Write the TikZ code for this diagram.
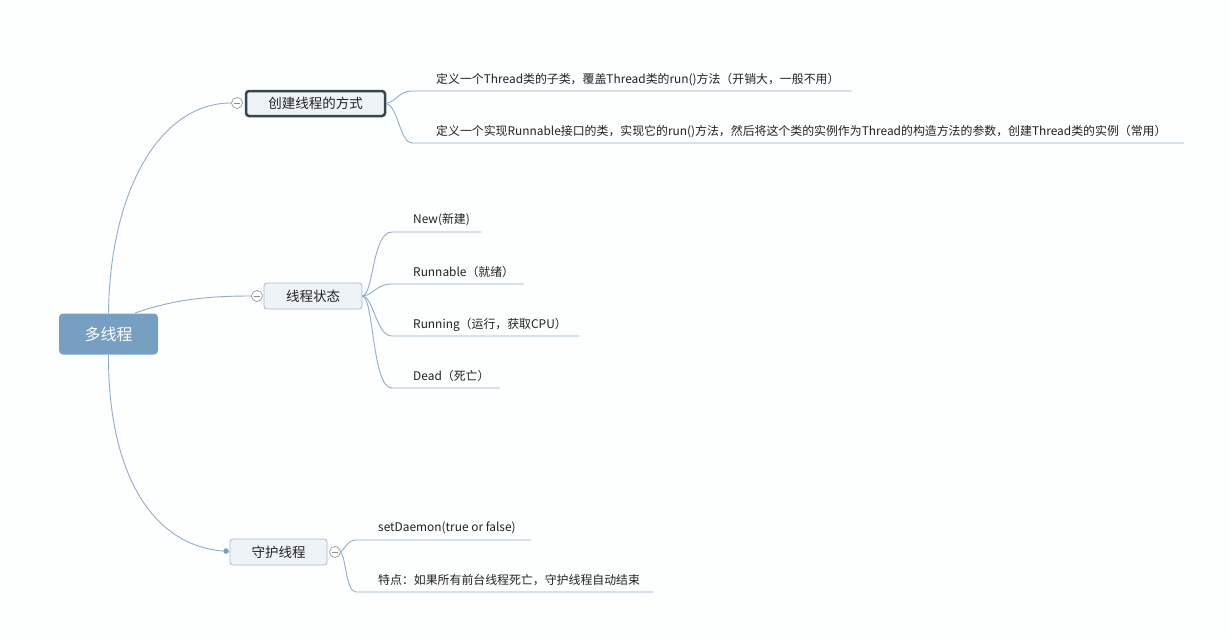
\documentclass[tikz,border=0pt]{standalone}
\usepackage{fontspec}
\setmainfont{Noto Sans CJK SC}
\definecolor{rootfill}{HTML}{779FC2}
\definecolor{topicfill}{HTML}{EEF3F8}
\definecolor{topicedge}{HTML}{A6BBCD}
\definecolor{darkedge}{HTML}{37454F}
\definecolor{linec}{HTML}{90AEC8}
\definecolor{txt}{HTML}{222222}
\definecolor{bg}{HTML}{FDFEFE}
\tikzset{
  rootbox/.style={draw=none, fill=rootfill, rounded corners=4pt, minimum width=99pt, minimum height=41pt, text=white, font=\fontsize{16}{18}\selectfont},
  topicbox/.style={draw=topicedge, line width=0.8pt, fill=topicfill, rounded corners=3pt, minimum height=26pt, text=txt, font=\fontsize{13.5}{15}\selectfont},
  mainbox/.style={draw=darkedge, line width=2.5pt, fill=topicfill, rounded corners=3pt, minimum width=139pt, minimum height=25pt, text=txt, font=\fontsize{13.5}{15}\selectfont},
  leaf/.style={anchor=base west, inner sep=0pt, text=txt, font=\fontsize{11.9}{14}\selectfont},
  conn/.style={draw=linec, line width=0.9pt},
  collapse/.style={circle, draw=gray!80, fill=white, line width=0.7pt, minimum size=11pt, inner sep=0pt},
  dotnode/.style={circle, fill=rootfill, minimum size=5.5pt, inner sep=0pt},
}
\newcommand{\minussign}[1]{\draw[gray!90, line width=0.7pt] ([xshift=-3pt]#1.center) -- ([xshift=3pt]#1.center);}
\begin{document}
\begin{tikzpicture}[x=1pt,y=-1pt]
\useasboundingbox[fill=bg] (0,0) rectangle (1230,638);

% root
\node[rootbox] (root) at (108.5,334) {多线程};
\coordinate (r2) at (135,313);

% topics
\node[mainbox] (tA) at (315.5,103.5) {创建线程的方式};
\node[topicbox, minimum width=98pt] (tB) at (313,296) {线程状态};
\node[topicbox, minimum width=97pt] (tC) at (278.5,552) {守护线程};

\node[collapse] (cA) at (237,103) {};
\node[collapse] (cB) at (257,296) {};
\node[collapse] (cC) at (335,552) {};
\node[dotnode] (dC) at (226,551) {};

% root connectors
\draw[conn] (root.north) .. controls (110,190) and (160,103) .. (cA.west);
\draw[conn] (r2) .. controls (175,299) and (210,296) .. (cB.west);
\draw[conn] (root.south) .. controls (108,470) and (150,545) .. (dC.west);
\draw[conn] (dC) -- (tC.west);

\minussign{cA}
\minussign{cB}
\minussign{cC}

% leaves of topic A
\node[leaf] (a1) at (436,83) {定义一个Thread类的子类，覆盖Thread类的run()方法（开销大，一般不用）};
\node[leaf] (a2) at (436,135.5) {定义一个实现Runnable接口的类，实现它的run()方法，然后将这个类的实例作为Thread的构造方法的参数，创建Thread类的实例（常用）};
\coordinate (a1s) at (412,91); \coordinate (a1e) at (852,91);
\coordinate (a2s) at (412,143); \coordinate (a2e) at (1184,143);
\draw[conn] (tA.east) .. controls (397,101) and (399,91) .. (a1s) -- (a1e);
\draw[conn] (tA.east) .. controls (398,106) and (400,143) .. (a2s) -- (a2e);

% leaves of topic B
\node[leaf] (b1) at (413,223.5) {New(新建)};
\node[leaf] (b2) at (413,276) {Runnable（就绪）};
\node[leaf] (b3) at (413,328) {Running（运行，获取CPU）};
\node[leaf] (b4) at (413,380) {Dead（死亡）};
\coordinate (b1s) at (392,232); \coordinate (b1e) at (481,232);
\coordinate (b2s) at (392,284); \coordinate (b2e) at (524,284);
\coordinate (b3s) at (392,336); \coordinate (b3e) at (579,336);
\coordinate (b4s) at (392,388); \coordinate (b4e) at (500,388);
\draw[conn] (tB.east) .. controls (374,294) and (372,232) .. (b1s) -- (b1e);
\draw[conn] (tB.east) .. controls (374,295) and (376,284) .. (b2s) -- (b2e);
\draw[conn] (tB.east) .. controls (374,297) and (376,336) .. (b3s) -- (b3e);
\draw[conn] (tB.east) .. controls (374,298) and (372,388) .. (b4s) -- (b4e);

% leaves of topic C
\node[leaf] (c1) at (378,531.5) {setDaemon(true or false)};
\node[leaf] (c2) at (378,584.5) {特点：如果所有前台线程死亡，守护线程自动结束};
\coordinate (c1s) at (356,540); \coordinate (c1e) at (531,540);
\coordinate (c2s) at (356,592); \coordinate (c2e) at (653,592);
\draw[conn] (cC.east) .. controls (346,547) and (348,540) .. (c1s) -- (c1e);
\draw[conn] (cC.east) .. controls (346,558) and (346,592) .. (c2s) -- (c2e);
\end{tikzpicture}
\end{document}
